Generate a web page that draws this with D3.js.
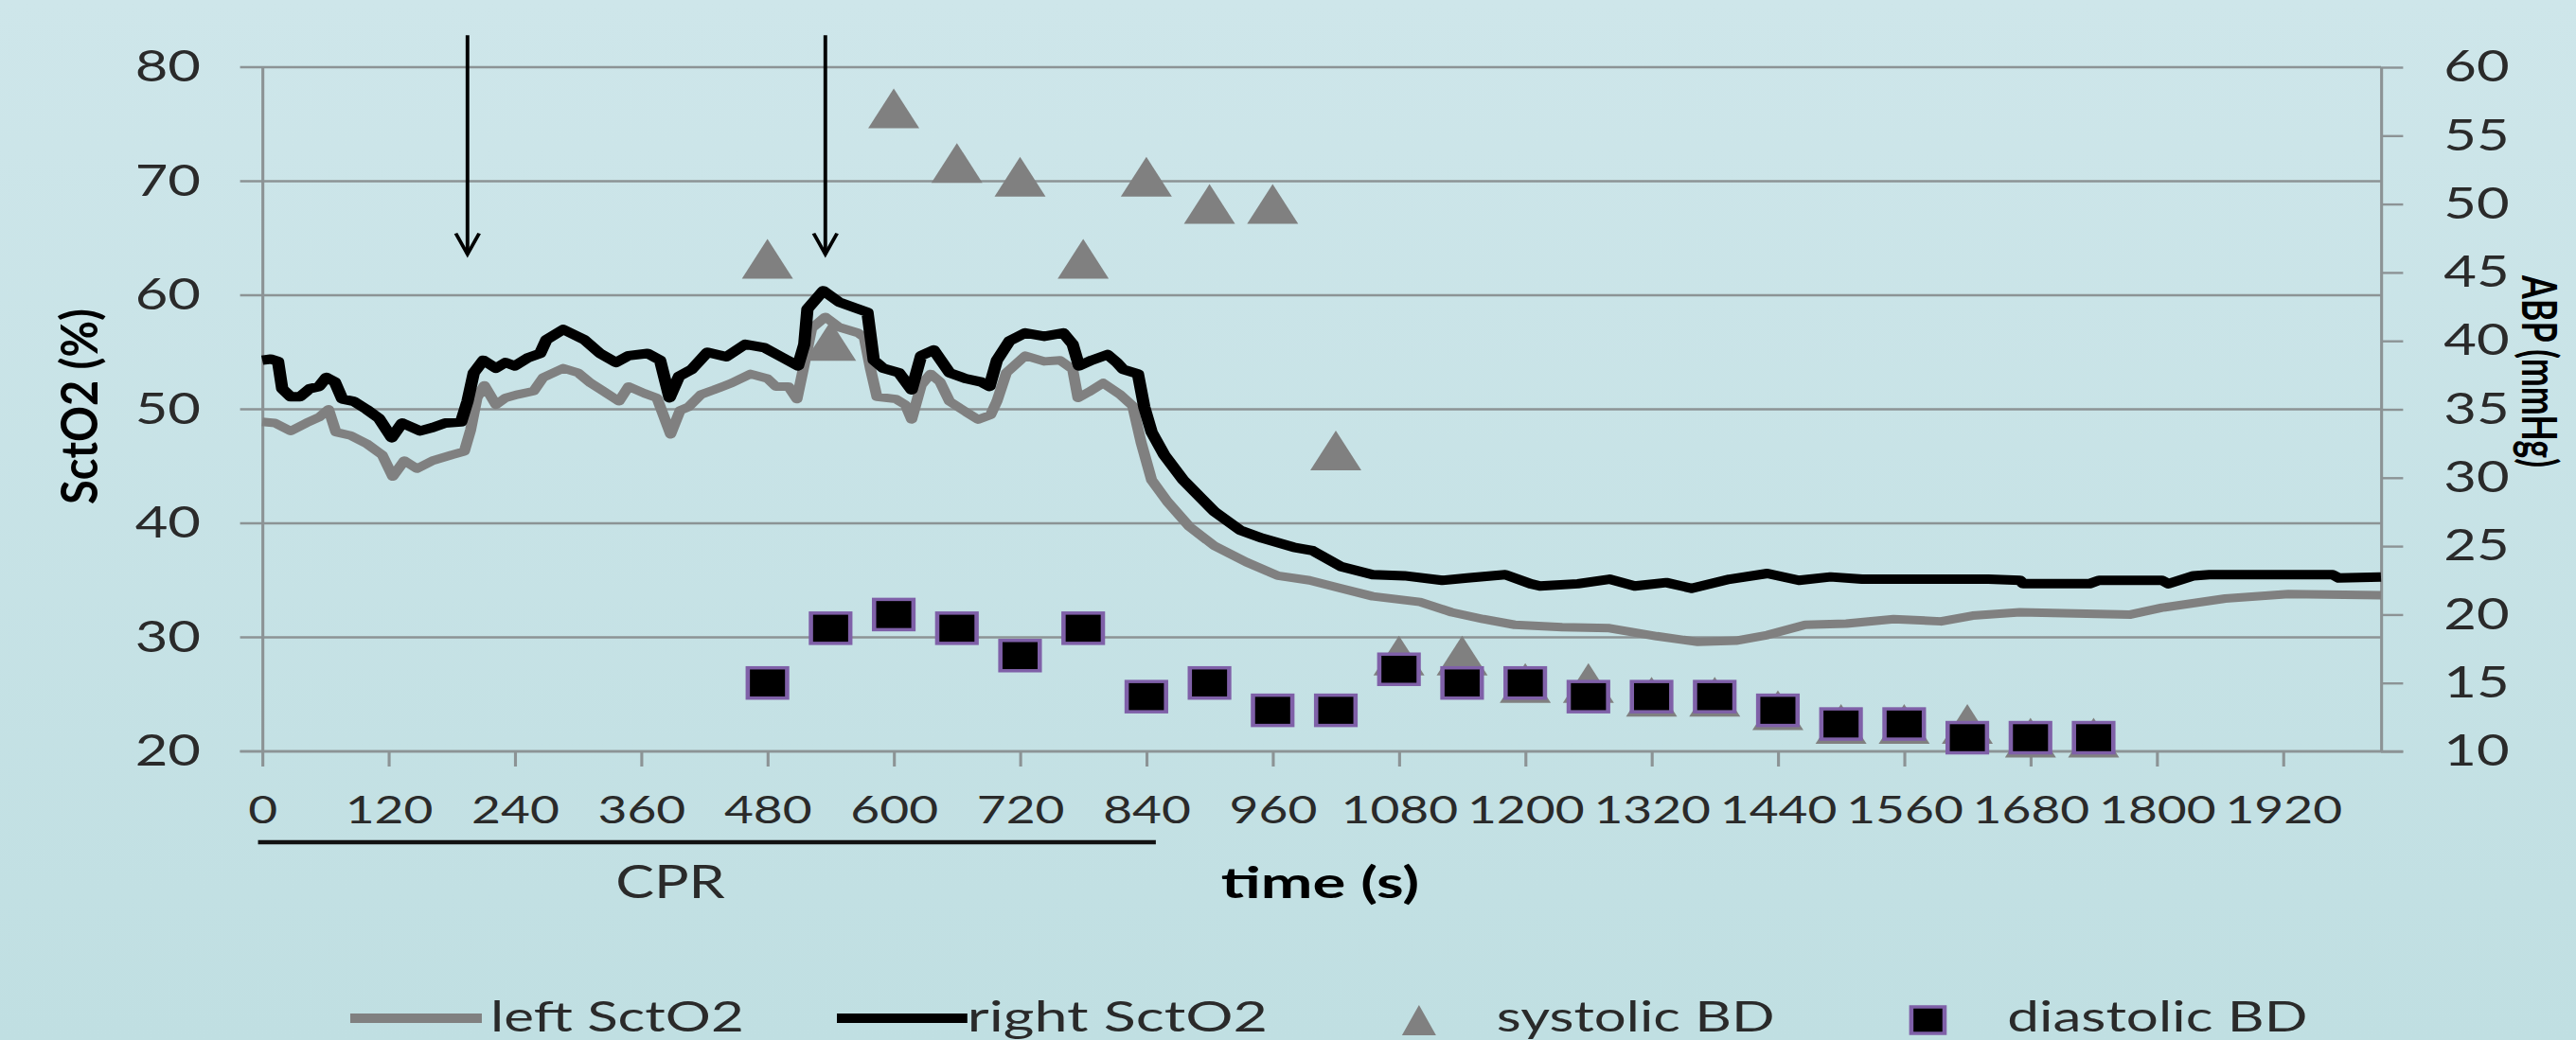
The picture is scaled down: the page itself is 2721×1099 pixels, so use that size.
<!DOCTYPE html>
<html>
<head>
<meta charset="utf-8">
<script src="https://cdn.jsdelivr.net/npm/d3@7"></script>
<style>
    html, body { margin: 0; padding: 0; background: #c8e3e6; overflow: hidden; }
    text { font-family: Lato, "Open Sans", sans-serif; }
</style>
</head>
<body>
<div id="chart"></div>
<script>
// ---- data ----
// left SctO2 (grey line), time in s and value in %
var leftTime = [0, 12, 27, 42, 54, 63, 70, 84, 99, 114, 124, 135, 147, 162, 180, 192, 198, 204, 211, 222,
    231, 243, 258, 267, 286, 300, 312, 324, 339, 348, 363, 375, 388, 397, 405, 417, 429, 446, 464, 480,
    488, 500, 508, 514, 522, 535, 548, 566, 572, 578, 584, 602, 611, 617, 626, 635, 644, 653, 668, 680,
    692, 698, 707, 725, 743, 758, 770, 775, 785, 799, 815, 827, 835, 845, 860, 881, 905, 935, 965, 995,
    1025, 1055, 1100, 1130, 1160, 1190, 1235, 1280, 1325, 1364, 1400, 1430, 1466, 1505, 1550, 1595, 1625, 1670, 1775, 1805,
    1865, 1925, 2013];
var leftSctO2 = [48.9, 48.8, 48.1, 48.8, 49.3, 50.0, 48.0, 47.7, 47.0, 46.0, 44.1, 45.5, 44.8, 45.5, 46.0, 46.3, 48.2, 51.0, 52.1, 50.4,
    51.0, 51.3, 51.6, 52.8, 53.6, 53.2, 52.3, 51.6, 50.7, 52.0, 51.4, 51.0, 47.8, 49.9, 50.2, 51.3, 51.7, 52.3, 53.1, 52.7,
    52.0, 52.0, 50.9, 53.5, 57.1, 58.1, 57.2, 56.7, 56.3, 53.5, 51.1, 50.9, 50.4, 49.1, 52.1, 53.1, 52.4, 50.7, 49.8, 49.1,
    49.5, 50.7, 53.2, 54.7, 54.2, 54.3, 53.5, 51.0, 51.5, 52.3, 51.3, 50.3, 47.1, 43.8, 41.9, 39.7, 38.0, 36.6, 35.4, 35.0,
    34.3, 33.6, 33.1, 32.2, 31.6, 31.1, 30.9, 30.8, 30.1, 29.6, 29.7, 30.2, 31.1, 31.2, 31.6, 31.4, 31.9, 32.2, 32.0, 32.6,
    33.4, 33.8, 33.7];

// right SctO2 (black line)
var rightTime = [0, 8, 15, 19, 27, 36, 45, 54, 61, 69, 76, 87, 99, 111, 123, 133, 150, 162, 174, 189,
    195, 201, 210, 222, 231, 240, 252, 264, 270, 286, 306, 321, 336, 348, 366, 378, 387, 396, 408, 423,
    441, 459, 477, 495, 509, 515, 518, 533, 548, 563, 575, 581, 590, 605, 617, 626, 638, 653, 668, 683,
    691, 698, 710, 725, 743, 761, 770, 776, 788, 803, 812, 818, 832, 838, 845, 857, 875, 905, 929, 950,
    980, 998, 1025, 1055, 1085, 1121, 1145, 1181, 1205, 1214, 1250, 1280, 1304, 1334, 1358, 1394, 1430, 1460, 1490, 1520,
    1580, 1640, 1670, 1673, 1736, 1745, 1805, 1811, 1835, 1850, 1895, 1967, 1973, 2013];
var rightSctO2 = [54.3, 54.4, 54.2, 51.8, 51.1, 51.1, 51.8, 52.0, 52.8, 52.4, 50.9, 50.7, 50.0, 49.2, 47.5, 48.8, 48.1, 48.4, 48.8, 48.9,
    50.7, 53.2, 54.3, 53.6, 54.1, 53.8, 54.5, 54.9, 56.1, 57.0, 56.1, 54.9, 54.1, 54.7, 54.9, 54.3, 51.0, 52.9, 53.5, 55.0,
    54.6, 55.7, 55.4, 54.5, 53.8, 55.7, 58.8, 60.4, 59.4, 58.9, 58.5, 54.3, 53.6, 53.2, 51.7, 54.7, 55.2, 53.2, 52.7, 52.4,
    52.0, 54.3, 56.0, 56.7, 56.4, 56.7, 55.7, 53.8, 54.3, 54.8, 54.1, 53.5, 53.1, 50.2, 48.0, 46.0, 43.8, 41.0, 39.4, 38.7,
    37.9, 37.6, 36.2, 35.5, 35.4, 35.0, 35.2, 35.5, 34.7, 34.5, 34.7, 35.1, 34.5, 34.8, 34.3, 35.1, 35.6, 35.0, 35.3, 35.1,
    35.1, 35.1, 35.0, 34.7, 34.7, 35.0, 35.0, 34.7, 35.4, 35.5, 35.5, 35.5, 35.2, 35.3];

// blood pressure samples (right axis, mmHg)
var bpTime = [480, 540, 600, 660, 720, 780, 840, 900, 960, 1020, 1080, 1140, 1200, 1260, 1320, 1380, 1440, 1500, 1560, 1620, 1680, 1740];
var systolic = [46, 40, 57, 53, 52, 46, 52, 50, 50, 32, 17, 17, 15, 15, 14, 14, 13, 12, 12, 12, 11, 11];
var diastolic = [15, 19, 20, 19, 17, 19, 14, 15, 13, 13, 16, 15, 15, 14, 14, 14, 13, 12, 12, 11, 11, 11];

// axis ticks
var xTicks = [0, 120, 240, 360, 480, 600, 720, 840, 960, 1080, 1200, 1320, 1440, 1560, 1680, 1800, 1920];
var leftTicks = [20, 30, 40, 50, 60, 70, 80];
var rightTicks = [10, 15, 20, 25, 30, 35, 40, 45, 50, 55, 60];

// annotations
var arrowTimes = [195, 535];
var arrowFrom = 82.8, arrowTo = 63.6;
var cprSpan = [-4, 849];

// ---- layout ----
// the original figure is stretched sideways, so draw in a narrower box and stretch it
var S = 1.3;
var W = 2721, H = 1099, VW = W / S;
var plot = { left: 277 / S, right: 2515 / S, top: 71, bottom: 794 };
var gridColor = "#8c9395", textColor = "#2a2a2a";

var svg = d3.select("#chart")
    .append("svg")
    .attr("width", W)
    .attr("height", H)
    .attr("viewBox", "0 0 " + VW + " " + H)
    .attr("preserveAspectRatio", "none");

// background gradient
var grad = svg.append("defs").append("linearGradient")
    .attr("id", "bg").attr("x1", 0).attr("y1", 0).attr("x2", 0).attr("y2", 1);
grad.append("stop").attr("offset", "0%").attr("stop-color", "#cee6ea");
grad.append("stop").attr("offset", "100%").attr("stop-color", "#c0dfe2");
svg.append("rect").attr("width", VW).attr("height", H).attr("fill", "url(#bg)");

// scales
var x = d3.scaleLinear().domain([0, 2013]).range([plot.left, plot.right]);
var yL = d3.scaleLinear().domain([20, 80]).range([plot.bottom, plot.top]);
var yR = d3.scaleLinear().domain([10, 60]).range([plot.bottom, plot.top]);

//////////
// GRID //
//////////
svg.append("g")
    .selectAll("line")
    .data(leftTicks)
    .enter()
    .append("line")
    .attr("x1", plot.left - 18)
    .attr("x2", plot.right)
    .attr("y1", function (d) { return yL(d); })
    .attr("y2", function (d) { return yL(d); })
    .attr("stroke", gridColor)
    .attr("stroke-width", 2.6);

//////////
// AXES //
//////////
function styleAxis(g, size) {
    g.selectAll(".domain").attr("stroke", gridColor).attr("stroke-width", 2.4);
    g.selectAll(".tick line").attr("stroke", gridColor).attr("stroke-width", 2.4);
    g.selectAll(".tick text")
        .attr("fill", textColor)
        .style("font-size", size + "px")
        .style("font-family", "Lato, sans-serif");
}

var gLeft = svg.append("g")
    .attr("transform", "translate(" + plot.left + ",0)")
    .call(d3.axisLeft(yL).tickValues(leftTicks).tickSize(0).tickSizeOuter(0).tickPadding(50));
styleAxis(gLeft, 46);

var gRight = svg.append("g")
    .attr("transform", "translate(" + plot.right + ",0)")
    .call(d3.axisRight(yR).tickValues(rightTicks).tickSize(18).tickSizeOuter(0).tickPadding(33));
styleAxis(gRight, 46);

var gBottom = svg.append("g")
    .attr("transform", "translate(0," + plot.bottom + ")")
    .call(d3.axisBottom(x).tickValues(xTicks).tickFormat(d3.format("d"))
        .tickSize(16).tickSizeOuter(0).tickPadding(31));
gBottom.select(".domain").remove();
styleAxis(gBottom, 41);

// bottom line runs from the left tick to the right tick
svg.append("line")
    .attr("x1", plot.left - 18).attr("x2", plot.right + 18)
    .attr("y1", plot.bottom).attr("y2", plot.bottom)
    .attr("stroke", gridColor).attr("stroke-width", 2.6);

/////////////
// MARKERS //
/////////////
var triW = 41.5, triH = 42;
var triangle = function (cx, cy, w, h) {
    return "M" + cx + "," + (cy - h / 2) + "L" + (cx + w / 2) + "," + (cy + h / 2) +
        "L" + (cx - w / 2) + "," + (cy + h / 2) + "Z";
};

svg.append("g")
    .selectAll("path")
    .data(bpTime)
    .enter()
    .append("path")
    .attr("d", function (d, i) { return triangle(x(d), yR(systolic[i]), triW, triH); })
    .attr("fill", "#808080");

var sq = 32;
svg.append("g")
    .selectAll("rect")
    .data(bpTime)
    .enter()
    .append("rect")
    .attr("x", function (d) { return x(d) - sq / 2; })
    .attr("y", function (d, i) { return yR(diastolic[i]) - sq / 2; })
    .attr("width", sq)
    .attr("height", sq)
    .attr("fill", "#000")
    .attr("stroke", "#7f60a8")
    .attr("stroke-width", 3.5);

///////////
// LINES //
///////////
var line = d3.line()
    .x(function (d) { return x(d[0]); })
    .y(function (d) { return yL(d[1]); });

svg.append("path")
    .datum(d3.zip(leftTime, leftSctO2))
    .attr("d", line)
    .attr("fill", "none")
    .attr("stroke", "#808080")
    .attr("stroke-width", 9)
    .attr("stroke-linejoin", "round");

svg.append("path")
    .datum(d3.zip(rightTime, rightSctO2))
    .attr("d", line)
    .attr("fill", "none")
    .attr("stroke", "#000")
    .attr("stroke-width", 10)
    .attr("stroke-linejoin", "round");

/////////////////
// ANNOTATIONS //
/////////////////
var arrows = svg.append("g").attr("stroke", "#000").attr("stroke-width", 3).attr("fill", "none");
arrowTimes.forEach(function (t) {
    var ax = x(t), tip = yL(arrowTo);
    arrows.append("line").attr("x1", ax).attr("x2", ax).attr("y1", yL(arrowFrom)).attr("y2", tip);
    arrows.append("path")
        .attr("d", "M" + (ax - 9.5) + "," + (tip - 22) + "L" + ax + "," + tip + "L" + (ax + 9.5) + "," + (tip - 22));
});

// CPR period bar
svg.append("line")
    .attr("x1", x(cprSpan[0])).attr("x2", x(cprSpan[1]))
    .attr("y1", 890).attr("y2", 890)
    .attr("stroke", "#111").attr("stroke-width", 4.5);

svg.append("text")
    .attr("x", 544.6).attr("y", 949)
    .attr("text-anchor", "middle")
    .style("font-size", "48px")
    .attr("fill", textColor)
    .attr("textLength", 89).attr("lengthAdjust", "spacingAndGlyphs")
    .text("CPR");

// axis titles
svg.append("text")
    .attr("x", 1072.7).attr("y", 949)
    .attr("text-anchor", "middle")
    .style("font-size", "46px").style("font-weight", "bold")
    .attr("textLength", 161).attr("lengthAdjust", "spacingAndGlyphs")
    .text("time (s)");

svg.append("text")
    .attr("transform", "translate(79.2,429.5) rotate(-90)")
    .attr("text-anchor", "middle")
    .style("font-size", "41px").style("font-weight", "bold")
    .attr("textLength", 207).attr("lengthAdjust", "spacingAndGlyphs")
    .text("SctO2 (%)");

svg.append("text")
    .attr("transform", "translate(2049,392.5) rotate(90)")
    .attr("text-anchor", "middle")
    .style("font-size", "40px").style("font-weight", "bold")
    .attr("textLength", 203).attr("lengthAdjust", "spacingAndGlyphs")
    .text("ABP (mmHg)");

////////////
// LEGEND //
////////////
var lg = svg.append("g");
var legendY = 1076, legendBase = 1090;
lg.append("line").attr("x1", 284.6).attr("x2", 391.5).attr("y1", legendY).attr("y2", legendY)
    .attr("stroke", "#808080").attr("stroke-width", 10);
lg.append("line").attr("x1", 680).attr("x2", 786).attr("y1", legendY).attr("y2", legendY)
    .attr("stroke", "#000").attr("stroke-width", 10);
lg.append("path").attr("d", triangle(1153, 1078, 27.7, 32)).attr("fill", "#808080");
lg.append("rect").attr("x", 1566.5 - 13.5).attr("y", 1078 - 14).attr("width", 27).attr("height", 28)
    .attr("fill", "#000").attr("stroke", "#7f60a8").attr("stroke-width", 3.5);

var legendItems = [
    { label: "left SctO2", x: 398.5, len: 206 },
    { label: "right SctO2", x: 786, len: 244 },
    { label: "systolic BD", x: 1216, len: 226 },
    { label: "diastolic BD", x: 1631, len: 244 }
];
lg.selectAll("text.lab")
    .data(legendItems)
    .enter()
    .append("text")
    .attr("class", "lab")
    .attr("x", function (d) { return d.x; })
    .attr("y", legendBase)
    .attr("textLength", function (d) { return d.len; })
    .attr("lengthAdjust", "spacingAndGlyphs")
    .style("font-size", "44px")
    .attr("fill", textColor)
    .text(function (d) { return d.label; });
</script>
</body>
</html>
